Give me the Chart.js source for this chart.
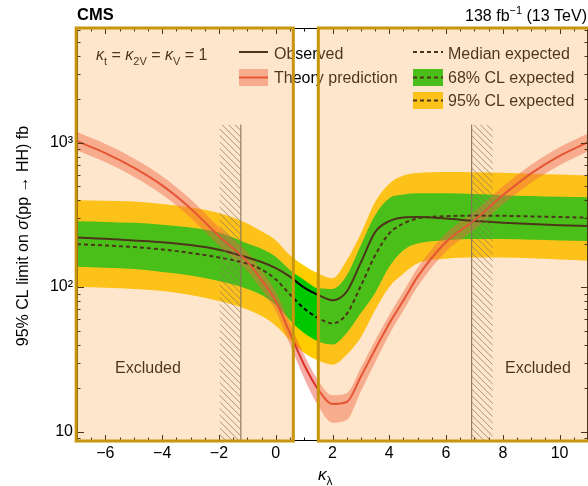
<!DOCTYPE html>
<html><head><meta charset="utf-8">
<script src="https://cdn.jsdelivr.net/npm/chart.js@4"></script>
<style>html,body{margin:0;padding:0;background:#fff}canvas{display:block}</style>
</head><body>
<canvas id="c" width="588" height="486"></canvas>
<script>
// ---- data ----
const kappa     = [-7,-6,-5,-4,-3,-2,-1,-0.5,0,0.5,1,1.5,2,2.5,3,3.5,4,4.5,5,6,7,8,9,10,11];
const expected  = [198,194,189,182,172,160,145,132,113,89,71,61,56,65,102,165,235,275,298,309,312,311,308,305,302];
const observed  = [220,216,210,204,195,181,160,149,135,118,99,88,81,93,148,240,286,303,305,298,286,279,273,268,264];
const band68Up  = [285,282,278,270,258,238,200,184,162,131,112,98,97,120,195,314,411,436,445,445,440,432,426,421,418];
const band68Dn  = [138,136,133,127,120,110,97,88,75,59,48,42,40,48,66,91,138,180,200,211,215,215,212,210,208];
const band95Up  = [398,395,390,375,355,325,275,243,211,166,141,124,115,153,235,388,519,590,614,624,622,617,608,600,592];
const band95Dn  = [100,99,97,94,88,80,70,63,54,43,35,31,29,34,45,69,100,124,146,157,160,160,158,155,152];
const theory    = [1020,845,670,505,350,225,150,112,80,48,29,19.5,15.5,16,24,37,56,81,118,205,290,431,611,807,1004];
const theoryUp  = [1180,975,775,585,405,260,174,130,93,56,34,22.5,17.8,18.4,27.6,42.5,64,93,136,236,333,496,703,928,1155];
const theoryDn  = [880,730,580,436,302,194,129,96,68,40,23.5,15,11.5,12,19,30,47,69,101,176,250,372,527,697,867];
const xTickValues = [-6,-4,-2,0,2,4,6,8,10];
const yTickValues = [10,100,1000];
const yTickLabels = ['10','10\u00B2','10\u00B3'];
const hatchRanges = [[-1.97,-1.23,'right'],[6.90,7.64,'left']];
const hatchTop = 1330;
const boxRanges = [[-7.03,0.62],[1.50,11.6]];

const FONT = "'Liberation Sans', Arial, Helvetica, sans-serif";
const C_YELLOW = 'rgb(255,204,0)';
const C_GREEN = 'rgb(0,200,0)';
const C_THBAND = 'rgba(235,70,60,0.45)';
const C_THLINE = 'rgb(220,50,40)';

function pts(arr){ return kappa.map((k,i)=>({x:k,y:arr[i]})); }

function fontFor(style,size){
  const s = (style==='sub'||style==='sup') ? Math.round(size*0.7) : size;
  return (style==='i'?'italic ':'') + s + 'px ' + FONT;
}
function drawRich(ctx, parts, x, y, align, size){
  ctx.textAlign='left'; ctx.textBaseline='alphabetic';
  const w = parts.map(p=>{ctx.font=fontFor(p[1],size);return ctx.measureText(p[0]).width;});
  const total = w.reduce((a,b)=>a+b,0);
  let cx = align==='right' ? x-total : align==='center' ? x-total/2 : x;
  parts.forEach((p,i)=>{
    ctx.font=fontFor(p[1],size);
    const dy = p[1]==='sub' ? size*0.3 : p[1]==='sup' ? -size*0.42 : 0;
    ctx.fillText(p[0], cx, y+dy);
    cx += w[i];
  });
}

const decor = {
  id:'decor',
  afterDatasetsDraw(chart){
    const {ctx, chartArea:a, scales:{x, y}} = chart;
    ctx.save();
    // hatched regions
    hatchRanges.forEach(([x0,x1,side])=>{
      const p0=x.getPixelForValue(x0), p1=x.getPixelForValue(x1), t=y.getPixelForValue(hatchTop), b=a.bottom;
      ctx.save();
      ctx.beginPath(); ctx.rect(p0,t,p1-p0,b-t); ctx.clip();
      ctx.strokeStyle='rgba(95,95,95,0.75)'; ctx.lineWidth=1;
      const H=b-t;
      for(let s=-H; s<p1-p0+5; s+=6.5){
        ctx.beginPath(); ctx.moveTo(p0+s,t); ctx.lineTo(p0+s+H,t+H); ctx.stroke();
      }
      ctx.restore();
      ctx.strokeStyle='rgba(90,90,90,0.9)'; ctx.lineWidth=1.2;
      const lx = side==='right' ? p1 : p0;
      ctx.beginPath(); ctx.moveTo(lx,t); ctx.lineTo(lx,b); ctx.stroke();
    });
    // frame
    ctx.strokeStyle='#000'; ctx.lineWidth=1;
    ctx.strokeRect(a.left+0.5,a.top+0.5,a.right-a.left-1,a.bottom-a.top-1);
    // inward ticks
    ctx.beginPath();
    for(let v=-7; v<=11.001; v+=0.5){
      const px=Math.round(x.getPixelForValue(v))+0.5;
      const L = (Math.abs(v%2)<1e-6) ? 6 : 3.5;
      ctx.moveTo(px,a.bottom); ctx.lineTo(px,a.bottom-L);
      ctx.moveTo(px,a.top); ctx.lineTo(px,a.top+L);
    }
    for(let d=1; d<=1000; d*=10){
      for(let m=1;m<=9;m++){
        const v=d*m; if(v<y.min||v>y.max) continue;
        const py=Math.round(y.getPixelForValue(v))+0.5;
        const L = m===1 ? 7 : 3.5;
        ctx.moveTo(a.left,py); ctx.lineTo(a.left+L,py);
        ctx.moveTo(a.right,py); ctx.lineTo(a.right-L,py);
      }
    }
    ctx.stroke();
    // legend
    ctx.fillStyle='#000';
    drawRich(ctx,[['\u03BA','i'],['t','sub'],[' = ',''],['\u03BA','i'],['2V','sub'],[' = ',''],['\u03BA','i'],['V','sub'],[' = 1','']],96,60,'left',16);
    ctx.lineWidth=2; ctx.strokeStyle='#000';
    ctx.beginPath(); ctx.moveTo(239,52); ctx.lineTo(268,52); ctx.stroke();
    ctx.fillStyle=C_THBAND; ctx.fillRect(239,69,29,17);
    ctx.strokeStyle=C_THLINE; ctx.beginPath(); ctx.moveTo(239,77.5); ctx.lineTo(268,77.5); ctx.stroke();
    ctx.fillStyle=C_GREEN; ctx.fillRect(413,69,30,17);
    ctx.fillStyle=C_YELLOW; ctx.fillRect(413,92,30,17);
    ctx.strokeStyle='#000'; ctx.setLineDash([4,3]);
    [52,77.5,100.5].forEach(yy=>{ctx.beginPath(); ctx.moveTo(413,yy); ctx.lineTo(443,yy); ctx.stroke();});
    ctx.setLineDash([]);
    ctx.fillStyle='#000'; ctx.font='16px '+FONT; ctx.textAlign='left'; ctx.textBaseline='alphabetic';
    ctx.fillText('Observed',274,58.5);
    ctx.fillText('Theory prediction',274,82.5);
    ctx.fillText('Median expected',448,58.5);
    ctx.fillText('68% CL expected',448,82.5);
    ctx.fillText('95% CL expected',448,105.5);
    ctx.fillText('Excluded',115,372.5);
    ctx.fillText('Excluded',505,372.5);
    // excluded boxes (translucent overlay + border)
    boxRanges.forEach(([x0,x1])=>{
      const p0=x.getPixelForValue(x0), p1=x.getPixelForValue(x1);
      ctx.fillStyle='rgba(248,173,84,0.3)';
      ctx.fillRect(p0,a.top,p1-p0,a.bottom-a.top);
      ctx.strokeStyle='#C8960C'; ctx.lineWidth=3;
      ctx.strokeRect(p0,a.top,p1-p0,a.bottom-a.top);
    });
    ctx.restore();
  },
  afterDraw(chart){
    const {ctx} = chart;
    ctx.save();
    ctx.fillStyle='#000'; ctx.textAlign='left'; ctx.textBaseline='alphabetic';
    ctx.font='bold 16.5px '+FONT; ctx.fillText('CMS',77,20);
    drawRich(ctx,[['138 fb',''],['\u22121','sup'],[' (13 TeV)','']],587,20.5,'right',16);
    // y title
    ctx.save(); ctx.translate(28,236); ctx.rotate(-Math.PI/2);
    drawRich(ctx,[['95% CL limit on ',''],['\u03C3','i'],['(pp \u2192 HH) fb','']],0,0,'center',16);
    ctx.restore();
    // x title
    drawRich(ctx,[['\u03BA','i'],['\u03BB','sub']],318,480,'left',17);
    ctx.restore();
  }
};

const common = {pointRadius:0, pointHoverRadius:0, cubicInterpolationMode:'monotone'};
new Chart(document.getElementById('c'), {
  type:'line',
  data:{ datasets:[
    {...common, label:'95% up', data:pts(band95Up), borderWidth:0, backgroundColor:C_YELLOW, fill:'+1', order:10},
    {...common, label:'95% dn', data:pts(band95Dn), borderWidth:0, fill:false, order:10},
    {...common, label:'68% up', data:pts(band68Up), borderWidth:0, backgroundColor:C_GREEN, fill:'+1', order:9},
    {...common, label:'68% dn', data:pts(band68Dn), borderWidth:0, fill:false, order:9},
    {...common, label:'Theory up', data:pts(theoryUp), borderWidth:0, backgroundColor:C_THBAND, fill:'+1', order:8},
    {...common, label:'Theory dn', data:pts(theoryDn), borderWidth:0, fill:false, order:8},
    {...common, label:'Median expected', data:pts(expected), borderColor:'#000', borderWidth:2, borderDash:[4,3], fill:false, order:3},
    {...common, label:'Observed', data:pts(observed), borderColor:'#000', borderWidth:2, fill:false, order:2},
    {...common, label:'Theory prediction', data:pts(theory), borderColor:C_THLINE, borderWidth:2, fill:false, order:1}
  ]},
  options:{
    responsive:false, animation:false, devicePixelRatio:1,
    layout:{padding:{top:28,right:0,left:0,bottom:0}},
    plugins:{legend:{display:false}, tooltip:{enabled:false}, title:{display:false}},
    scales:{
      x:{ type:'linear', min:-7, max:11,
          grid:{display:false, drawTicks:false}, border:{display:false},
          ticks:{padding:3, font:{size:16, family:FONT}, color:'#000', maxRotation:0, autoSkip:false,
                 callback:(v)=> v<0 ? '\u2212'+Math.abs(v) : String(v)},
          afterBuildTicks:(s)=>{ s.ticks = xTickValues.map(v=>({value:v})); },
          afterFit:(s)=>{ s.height = 45; } },
      y:{ type:'logarithmic', min:8.6, max:6200,
          grid:{display:false, drawTicks:false}, border:{display:false},
          ticks:{padding:4, font:{size:16, family:FONT}, color:'#000', autoSkip:false,
                 callback:(v)=>{ const i=yTickValues.indexOf(Number(v)); return i>=0 ? yTickLabels[i] : ''; }},
          afterBuildTicks:(s)=>{ s.ticks = yTickValues.map(v=>({value:v})); },
          afterFit:(s)=>{ s.width = 77; } }
    }
  },
  plugins:[decor]
});
</script>
</body></html>
